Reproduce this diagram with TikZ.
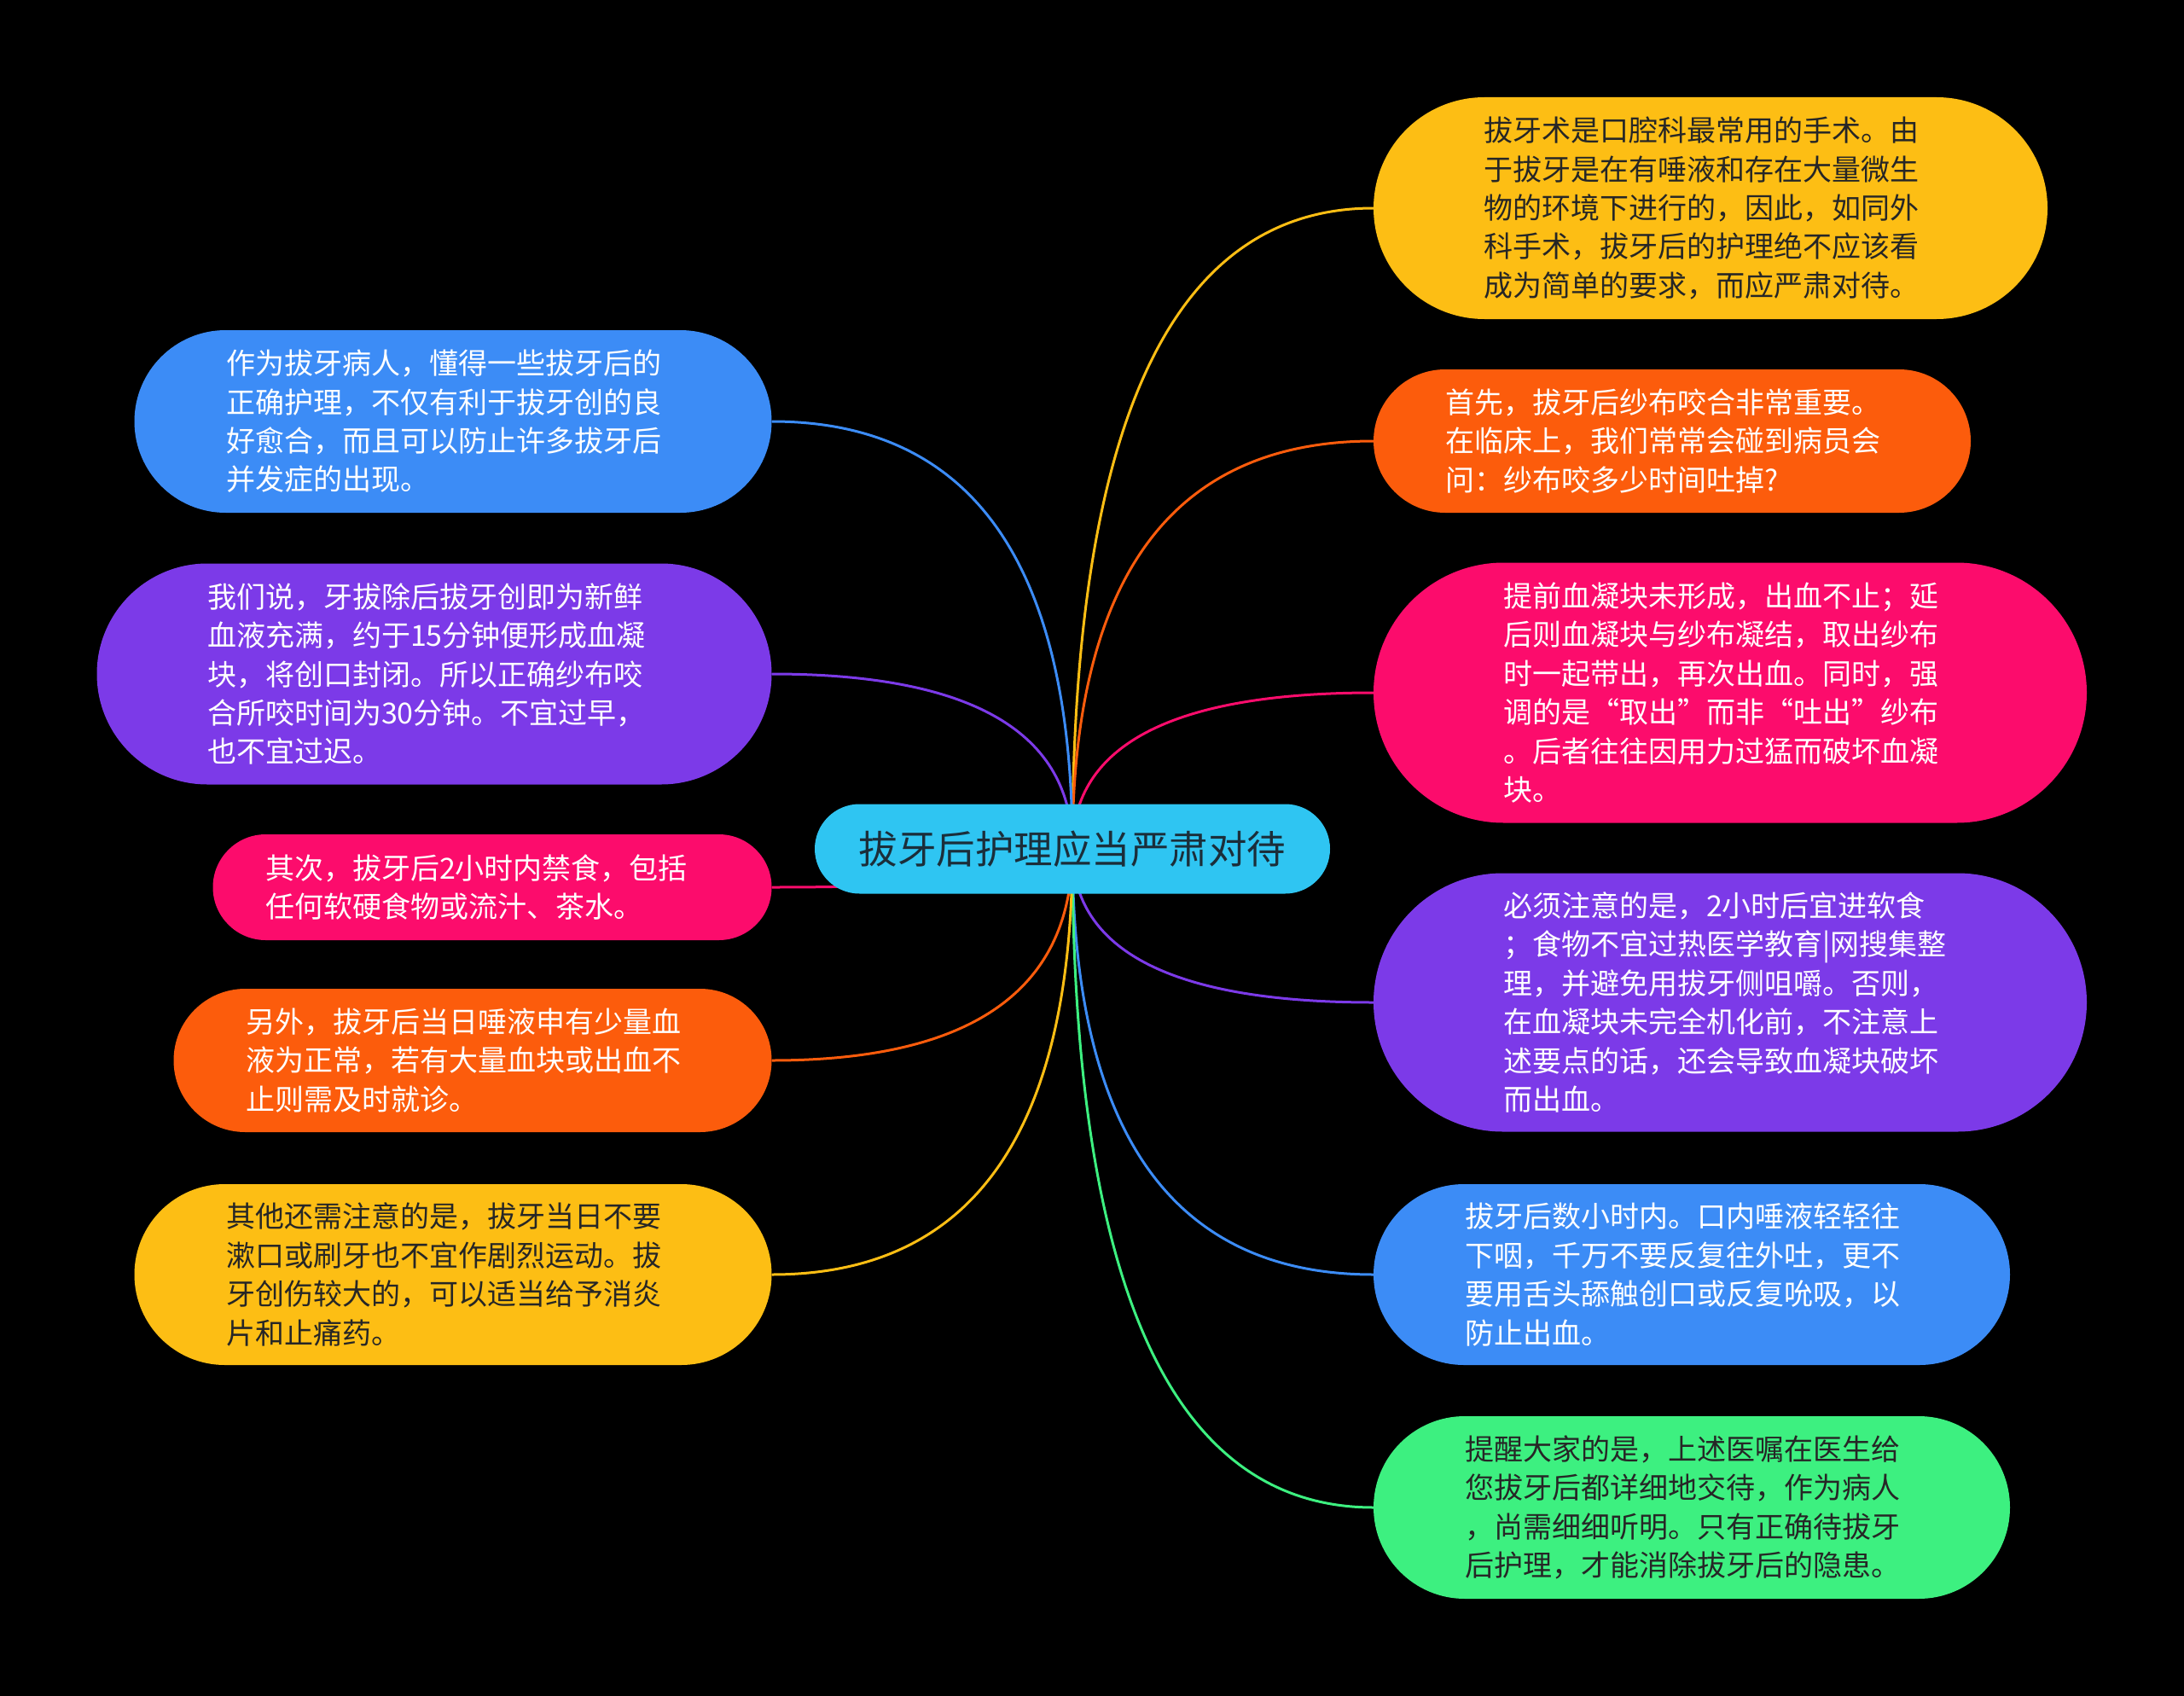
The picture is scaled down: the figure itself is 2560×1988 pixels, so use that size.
\documentclass[tikz,border=0pt]{standalone}
\usepackage{fontspec}
\setmainfont{Noto Sans CJK SC}
\usetikzlibrary{shapes.misc,calc}
\definecolor{cyanC}{HTML}{2FC5F2}
\definecolor{yelC}{HTML}{FDBE14}
\definecolor{oraC}{HTML}{FC5C0C}
\definecolor{pinC}{HTML}{FC0C6C}
\definecolor{purC}{HTML}{7C3AE8}
\definecolor{bluC}{HTML}{3C8CF6}
\definecolor{greC}{HTML}{3DF080}
\definecolor{darkT}{HTML}{262626}
\definecolor{rootT}{HTML}{1B2E3A}
\pgfdeclarelayer{bgl}
\pgfdeclarelayer{edges}
\pgfsetlayers{bgl,edges,main}
\tikzset{
  leaf/.style={rounded rectangle, draw=none, inner sep=0pt, align=left,
    text width=532pt, font=\fontsize{34}{45.4}\selectfont},
  rootnode/.style={rounded rectangle, draw=none, inner sep=0pt, fill=cyanC,
    text=rootT, font=\fontsize{45.5}{50}\selectfont,
    minimum width=604pt, minimum height=105pt},
  conn/.style={line width=3pt}
}
\newcommand{\linkR}[2]{%
  \draw[conn, #2] (root.center) .. controls ($(root.center)!0.667!(root.center |- #1.west)$)
    and ($(#1.west)!0.667!(root.center |- #1.west)$) .. (#1.west);}
\newcommand{\linkL}[2]{%
  \draw[conn, #2] (root.center) .. controls ($(root.center)!0.667!(root.center |- #1.east)$)
    and ($(#1.east)!0.667!(root.center |- #1.east)$) .. (#1.east);}
\begin{document}
\begin{tikzpicture}[x=1pt,y=-1pt]
\begin{pgfonlayer}{bgl}
\fill[black] (0,0) rectangle (2560,1988);
\end{pgfonlayer}
\useasboundingbox (0,0) rectangle (2560,1988);

\node[rootnode] (root) at (1257,995) {拔牙后护理应当严肃对待};

% right side
\node[leaf, fill=yelC, text=darkT, minimum width=790pt, minimum height=260pt] (r1) at (2005,244)
{拔牙术是口腔科最常用的手术。由\\于拔牙是在有唾液和存在大量微生\\物的环境下进行的，因此，如同外\\科手术，拔牙后的护理绝不应该看\\成为简单的要求，而应严肃对待。};
\node[leaf, fill=oraC, text=white, minimum width=700pt, minimum height=168pt] (r2) at (1960,517)
{首先，拔牙后纱布咬合非常重要。\\在临床上，我们常常会碰到病员会\\问：纱布咬多少时间吐掉?};
\node[leaf, fill=pinC, text=white, minimum width=836pt, minimum height=305pt] (r3) at (2028,812)
{提前血凝块未形成，出血不止；延\\后则血凝块与纱布凝结，取出纱布\\时一起带出，再次出血。同时，强\\调的是“取出”而非“吐出”纱布\\。后者往往因用力过猛而破坏血凝\\块。};
\node[leaf, fill=purC, text=white, minimum width=836pt, minimum height=303pt] (r4) at (2028,1175)
{必须注意的是，2小时后宜进软食\\；食物不宜过热医学教育|网搜集整\\理，并避免用拔牙侧咀嚼。否则，\\在血凝块未完全机化前，不注意上\\述要点的话，还会导致血凝块破坏\\而出血。};
\node[leaf, fill=bluC, text=white, minimum width=746pt, minimum height=212pt] (r5) at (1983,1494)
{拔牙后数小时内。口内唾液轻轻往\\下咽，千万不要反复往外吐，更不\\要用舌头舔触创口或反复吮吸，以\\防止出血。};
\node[leaf, fill=greC, text=darkT, minimum width=746pt, minimum height=214pt] (r6) at (1983,1767)
{提醒大家的是，上述医嘱在医生给\\您拔牙后都详细地交待，作为病人\\，尚需细细听明。只有正确待拔牙\\后护理，才能消除拔牙后的隐患。};

% left side
\node[leaf, fill=bluC, text=white, minimum width=747pt, minimum height=214pt] (l1) at (531,494)
{作为拔牙病人，懂得一些拔牙后的\\正确护理，不仅有利于拔牙创的良\\好愈合，而且可以防止许多拔牙后\\并发症的出现。};
\node[leaf, fill=purC, text=white, minimum width=791pt, minimum height=259pt] (l2) at (509,790)
{我们说，牙拔除后拔牙创即为新鲜\\血液充满，约于15分钟便形成血凝\\块，将创口封闭。所以正确纱布咬\\合所咬时间为30分钟。不宜过早，\\也不宜过迟。};
\node[leaf, fill=pinC, text=white, minimum width=655pt, minimum height=124pt] (l3) at (577,1040)
{其次，拔牙后2小时内禁食，包括\\任何软硬食物或流汁、茶水。};
\node[leaf, fill=oraC, text=white, minimum width=701pt, minimum height=168pt] (l4) at (554,1243)
{另外，拔牙后当日唾液申有少量血\\液为正常，若有大量血块或出血不\\止则需及时就诊。};
\node[leaf, fill=yelC, text=darkT, minimum width=747pt, minimum height=212pt] (l5) at (531,1494)
{其他还需注意的是，拔牙当日不要\\漱口或刷牙也不宜作剧烈运动。拔\\牙创伤较大的，可以适当给予消炎\\片和止痛药。};

\begin{pgfonlayer}{edges}
\linkR{r1}{yelC}
\linkR{r2}{oraC}
\linkR{r3}{pinC}
\linkR{r4}{purC}
\linkR{r5}{bluC}
\linkR{r6}{greC}
\linkL{l1}{bluC}
\linkL{l2}{purC}
\linkL{l3}{pinC}
\linkL{l4}{oraC}
\linkL{l5}{yelC}
\end{pgfonlayer}
\end{tikzpicture}
\end{document}
